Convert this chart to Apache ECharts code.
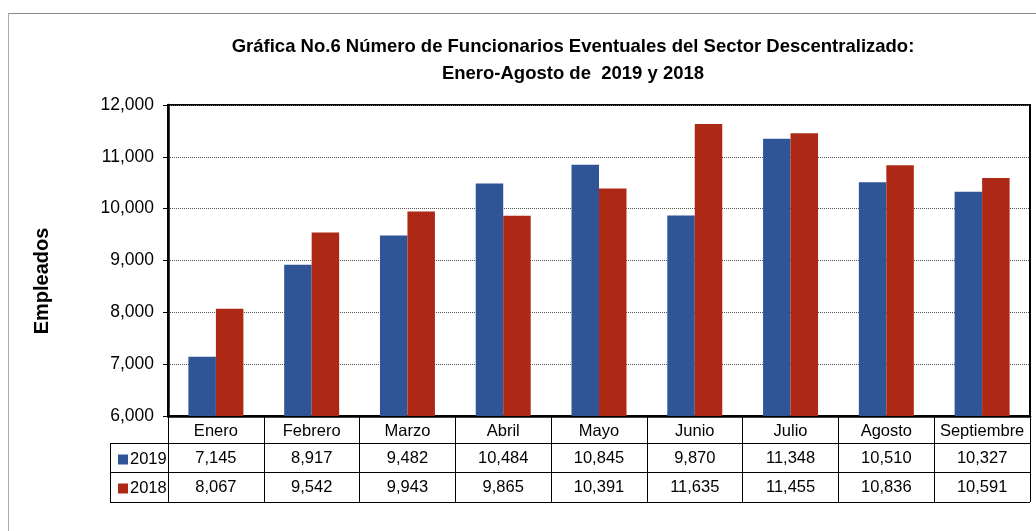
<!DOCTYPE html>
<html>
<head>
<meta charset="utf-8">
<script src="https://cdn.jsdelivr.net/npm/echarts@6/dist/echarts.min.js"></script>
<style>
  html, body { margin: 0; padding: 0; background: #fff; }
  #chart { width: 1036px; height: 531px; }
</style>
</head>
<body>
<div id="chart"></div>
<script>
// datos de la gráfica
const meses = ['Enero', 'Febrero', 'Marzo', 'Abril', 'Mayo', 'Junio', 'Julio', 'Agosto', 'Septiembre']
const datos2019 = [7145, 8917, 9482, 10484, 10845, 9870, 11348, 10510, 10327]
const datos2018 = [8067, 9542, 9943, 9865, 10391, 11635, 11455, 10836, 10591]
const yMin = 6000, yMax = 12000, yPaso = 1000

const AZUL = '#2F5597'
const ROJO = '#AE2816'
const FUENTE = 'Liberation Sans, Arial, sans-serif'

const fmt = (v) => v.toLocaleString('en-US')

const myChart = echarts.init(document.getElementById('chart'))

const option = {
  animation: false,
  title: {
    text: 'Gráfica No.6 Número de Funcionarios Eventuales del Sector Descentralizado:\nEnero-Agosto de  2019 y 2018',
    left: 568,
    top: 28,
    textAlign: 'center',
    textStyle: { fontFamily: FUENTE, fontSize: 18.5, fontWeight: 'bold', color: '#000', lineHeight: 27 }
  },
  legend: {
    orient: 'vertical',
    left: 113,
    top: 446,
    itemGap: 12,
    itemWidth: 10,
    itemHeight: 10,
    icon: 'rect',
    textStyle: { fontFamily: FUENTE, fontSize: 16.5, color: '#000', padding: [0, 0, 0, -3] },
    data: ['2019', '2018']
  },
  grid: {
    left: 168, right: 6, top: 105, bottom: 115,
    show: true, borderColor: '#000', borderWidth: 2
  },
  xAxis: {
    type: 'category',
    data: meses,
    axisLine: { lineStyle: { color: '#000', width: 2.5 } },
    axisTick: { show: true, interval: 0, length: 86, lineStyle: { color: '#000', width: 1 } },
    axisLabel: { interval: 0, fontFamily: FUENTE, fontSize: 16.5, color: '#000', margin: 7 }
  },
  yAxis: {
    type: 'value',
    min: yMin, max: yMax, interval: yPaso,
    axisLine: { show: true, lineStyle: { color: '#000', width: 2.5 } },
    axisTick: { show: true, length: 5, lineStyle: { color: '#000' } },
    axisLabel: { fontFamily: FUENTE, fontSize: 17.5, color: '#000', margin: 14, formatter: (v) => fmt(v) },
    splitLine: { lineStyle: { color: '#555', type: 'dotted', width: 1 } }
  },
  series: [
    { name: '2019', type: 'bar', data: datos2019, barWidth: '28.7%', barGap: '0%', itemStyle: { color: AZUL } },
    { name: '2018', type: 'bar', data: datos2018, barWidth: '28.7%', barGap: '0%', itemStyle: { color: ROJO } }
  ]
}
myChart.setOption(option)

// tabla de datos debajo del eje x
function dibujarTabla() {
  const x0 = 110
  const xDer = 1030
  const filas = [443, 472, 502]
  const els = []
  // borde exterior del recuadro
  els.push({ type: 'line', shape: { x1: 8, y1: 13.5, x2: 1036, y2: 13.5 }, style: { stroke: '#888', lineWidth: 1 } })
  els.push({ type: 'line', shape: { x1: 8.5, y1: 13, x2: 8.5, y2: 531 }, style: { stroke: '#aaa', lineWidth: 1 } })
  filas.forEach((y) => {
    els.push({ type: 'line', shape: { x1: x0, y1: y + 0.5, x2: xDer, y2: y + 0.5 }, style: { stroke: '#000', lineWidth: 1 } })
  })
  els.push({ type: 'line', shape: { x1: x0 + 0.5, y1: filas[0], x2: x0 + 0.5, y2: filas[2] }, style: { stroke: '#000', lineWidth: 1 } })
  // valores
  const series = [datos2019, datos2018]
  series.forEach((arr, r) => {
    const yc = (filas[r] + filas[r + 1]) / 2 + 0.5
    arr.forEach((v, i) => {
      const px = myChart.convertToPixel({ xAxisIndex: 0 }, i)
      els.push({
        type: 'text', x: px, y: yc,
        style: { text: fmt(v), fontFamily: FUENTE, fontSize: 16.5, fill: '#000', align: 'center', verticalAlign: 'middle' }
      })
    })
  })
  // titulo del eje y
  els.push({
    type: 'text', x: 42, y: 281, rotation: Math.PI / 2,
    style: { text: 'Empleados', fontFamily: FUENTE, fontSize: 20, fontWeight: 'bold', fill: '#000', align: 'center', verticalAlign: 'middle' }
  })
  myChart.setOption({ graphic: els })
}
dibujarTabla()
</script>
</body>
</html>
